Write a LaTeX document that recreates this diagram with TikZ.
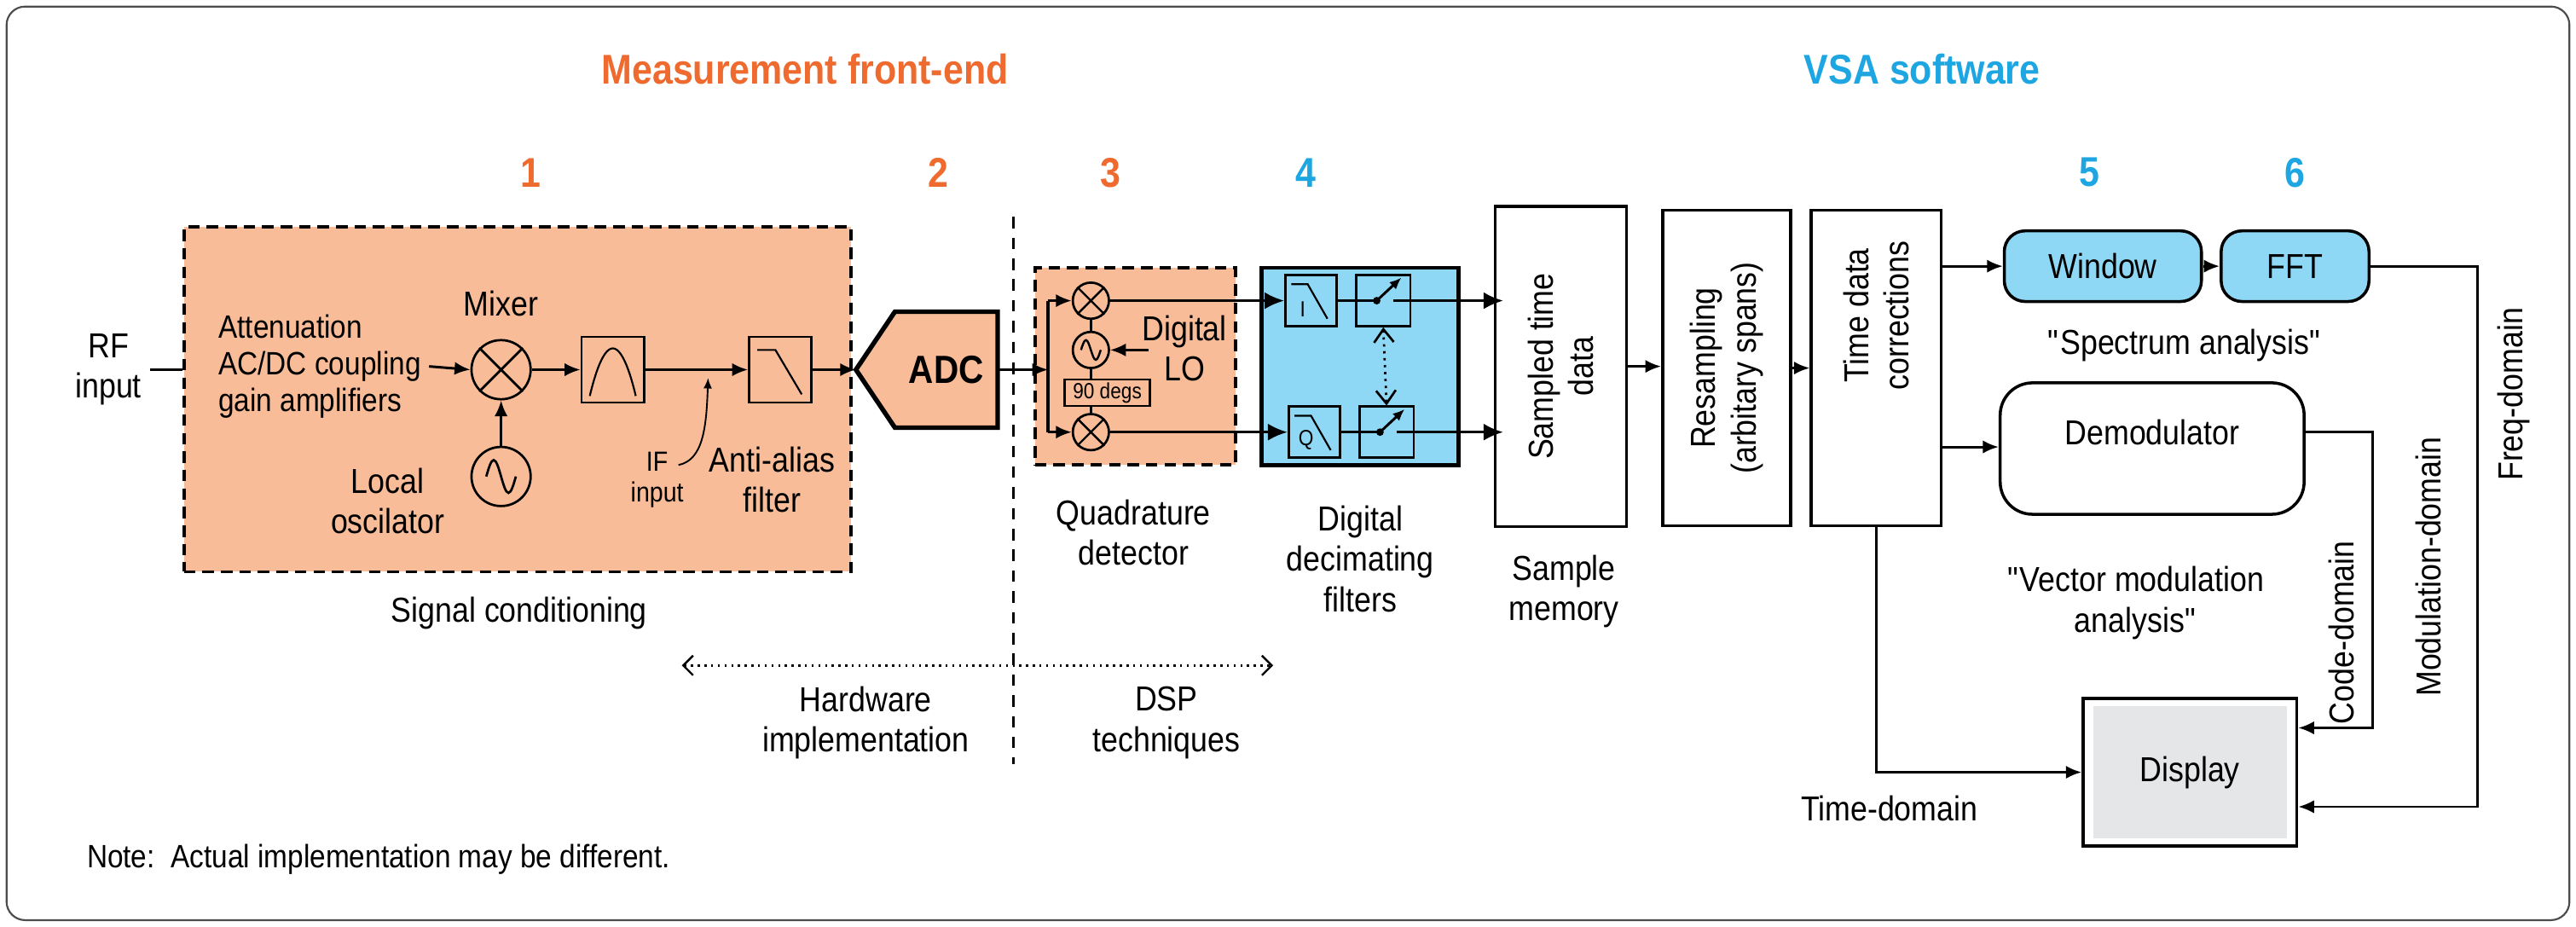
\documentclass[tikz,border=0pt]{standalone}
\usepackage{fontspec}
\setmainfont{Liberation Sans}[FakeStretch=0.88]
\usetikzlibrary{arrows.meta}
\definecolor{fe}{HTML}{EE6A2E}
\definecolor{vsa}{HTML}{1DA6E1}
\definecolor{orfill}{HTML}{F8BC98}
\definecolor{blfill}{HTML}{8ED8F6}
\definecolor{dispgray}{HTML}{E5E6E8}
\begin{document}
\begin{tikzpicture}[x=0.025cm,y=-0.025cm,
  sz/.style 2 args={minimum width=#1*0.025cm,minimum height=#2*0.025cm,inner sep=0pt},
  lbl/.style={font=\fontsize{15}{17.5}\selectfont,align=center},
  small/.style={font=\fontsize{12}{13.5}\selectfont,align=center},
  title/.style={font=\fontsize{18}{21}\selectfont\bfseries},
  box/.style={draw,line width=1.3pt},
  thin/.style={draw,line width=1pt},
  arr/.style={line width=1.1pt,-{Latex[length=2.4mm,width=2mm]}},
  sig/.style={line width=1.3pt,-{Latex[length=3mm,width=2.6mm]}},
  circ/.style={circle,draw,line width=1pt,inner sep=0pt}]
\useasboundingbox (0,0) rectangle (1568,564);
\draw[rounded corners=8,line width=0.8pt,black!70] (4,4) rectangle (1564,560);

% titles
\node[title,text=fe] (tfe) at (490,42) {Measurement front-end};
\node[title,text=vsa] (tvsa) at (1170,42) {VSA software};
\node[title,text=fe] (n1) at (323,105) {1};
\node[title,text=fe] (n2) at (571,105) {2};
\node[title,text=fe] (n3) at (676,105) {3};
\node[title,text=vsa] (n4) at (795,105) {4};
\node[title,text=vsa] (n5) at (1272,105) {5};
\node[title,text=vsa] (n6) at (1397,105) {6};

% signal conditioning
\node[lbl] (rf) at (66,225) {RF\\input};
\node[sz={406}{210},fill=orfill,draw,dashed,line width=1.3pt,dash pattern=on 5pt off 3pt] (sc) at (315,243) {};
\draw[line width=1.3pt] (rf.east) -- (rf.east -| sc.west);
\node[lbl,align=left,anchor=west,font=\fontsize{14}{16}\selectfont] (att) at (128,223) {Attenuation\\AC/DC coupling\\gain amplifiers};
\node[circ,sz={36}{36}] (mix) at (305,225) {};
\draw[line width=1pt] (mix.north west) -- (mix.south east) (mix.north east) -- (mix.south west);
\node[lbl] (mixl) at (305,185) {Mixer};
\node[circ,sz={36}{36}] (osc) at (305,290) {};
\draw[line width=1pt,shift={(osc.center)}] (-9,0) sin (-4.5,-10) cos (0,0) sin (4.5,10) cos (9,0);
\node[lbl] (oscl) at (236,305) {Local\\oscilator};
\node[thin,sz={38}{40}] (bpf) at (373,225) {};
\draw[line width=0.8pt] (359,241) parabola bend (373,212) (387,241);
\node[thin,sz={38}{40}] (lpf) at (475,225) {};
\draw[line width=0.8pt] (461,213) -- (472,213) -- (488,240);
\draw[arr] (att.east) -- (mix.west);
\draw[arr] (osc.north) -- (mix.south);
\draw[arr] (mix.east) -- (bpf.west);
\draw[arr] (bpf.east) -- (lpf.west);
\node[small] (ifl) at (400,292) {IF\\input};
\coordinate (ifs) at (413,283);
\coordinate (ife) at (431,230);
\draw[line width=0.7pt,-{Latex[length=1.6mm,width=1.3mm]}] (ifs) .. controls (428,280) and (430,260) .. (ife);
\node[lbl] (aal) at (470,292) {Anti-alias\\filter};
\node[lbl] (scl) at (316,373) {Signal conditioning};

% ADC
\node[sz={62}{70}] (adc) at (576,225) {};
\coordinate (adcin) at (521,225);
\fill[orfill] (adc.north west) -- (adc.north east) -- (adc.south east) -- (adc.south west) -- (adcin) -- cycle;
\draw[line width=2pt] (adc.north west) -- (adc.north east) -- (adc.south east) -- (adc.south west) -- (adcin) -- cycle;
\node[title,font=\fontsize{17}{19}\selectfont\bfseries] at (adc.center) {ADC};
\draw[arr] (lpf.east) -- (adcin);

% hw / dsp divider
\coordinate (divt) at (617,132);
\coordinate (divb) at (617,465);
\draw[line width=1pt,dash pattern=on 5pt off 4pt] (divt) -- (divb);
\coordinate (hwl) at (415,405);
\coordinate (dspr) at (775,405);
\draw[line width=0.9pt,dotted,{Straight Barb[length=1.5mm]}-{Straight Barb[length=1.5mm]}] (hwl) -- (dspr);
\node[lbl] (hwt) at (527,440) {Hardware\\implementation};
\node[lbl] (dspt) at (710,440) {DSP\\techniques};

% quadrature detector
\node[sz={122}{120},fill=orfill,draw,line width=1.3pt,dash pattern=on 5pt off 3pt] (qd) at (691,223) {};
\coordinate (bus) at (638,225);
\coordinate (bust) at (638,183);
\coordinate (busb) at (638,263);
\draw[arr] (adc.east) -- (bus);
\draw[line width=1.3pt] (bust) -- (busb);
\node[circ,sz={22}{22}] (mi) at (664,183) {};
\node[circ,sz={22}{22}] (mq) at (664,263) {};
\foreach \m in {mi,mq}
  \draw[line width=0.9pt] (\m.north west) -- (\m.south east) (\m.north east) -- (\m.south west);
\node[circ,sz={22}{22}] (lo) at (664,213) {};
\draw[line width=0.9pt,shift={(lo.center)}] (-6,0) sin (-3,-6) cos (0,0) sin (3,6) cos (6,0);
\node[thin,line width=0.9pt,sz={52}{16},font=\fontsize{9.5}{10}\selectfont] (deg) at (674,239) {90 degs};
\draw[arr] (bust) -- (mi.west);
\draw[arr] (busb) -- (mq.west);
\draw[line width=0.9pt] (mi.south) -- (lo.north) (lo.south) -- (lo.south |- deg.north) (mq.north |- deg.south) -- (mq.north);
\coordinate (loin) at (699,213);
\draw[arr] (loin) -- (lo.east);
\node[lbl] (lol) at (721,212) {Digital\\LO};
\node[lbl] (qdl) at (690,324) {Quadrature\\detector};

% digital decimating filters
\node[sz={120}{120},fill=blfill,draw,line width=1.8pt] (ddf) at (828,223) {};
\node[thin,sz={31}{31}] (ilp) at (798,183) {};
\node[thin,sz={33}{31}] (isw) at (842,183) {};
\node[thin,sz={31}{31}] (qlp) at (800,263) {};
\node[thin,sz={33}{31}] (qsw) at (844,263) {};
\foreach \f/\t in {ilp/I,qlp/Q}{
  \draw[line width=0.8pt] ([shift={(-12,-10)}]\f.center) -- ([shift={(-2,-10)}]\f.center) -- ([shift={(10,11)}]\f.center);
  \node[font=\fontsize{9.5}{10}\selectfont] at ([shift={(-5,5)}]\f.center) {\t};}
\node[lbl] (ddfl) at (828,340) {Digital\\decimating\\filters};

% sample memory, resampling, corrections
\node[box,sz={80}{195}] (smp) at (950,223) {};
\node[lbl,rotate=90] at (smp.center) {Sampled time\\data};
\node[lbl] (smpl) at (952,360) {Sample\\memory};
\node[box,sz={78}{192}] (res) at (1051,224) {};
\node[lbl,rotate=90] at (res.center) {Resampling\\(arbitary spans)};
\node[box,sz={79}{192}] (tdc) at (1142,224) {};
\node[lbl,rotate=90] at (1142,192) {Time data\\corrections};

% I/Q paths
\foreach \mx/\lp/\sw in {mi/ilp/isw,mq/qlp/qsw}{
  \draw[sig] (\mx.east) -- (\lp.west);
  \draw[line width=1.3pt] (\lp.east) -- ([xshift=-0.1cm]\sw.center);
  \fill ([xshift=-0.1cm]\sw.center) circle (2.3);
  \draw[line width=1.1pt,-{Latex[length=1.8mm,width=1.5mm]}] ([xshift=-0.1cm]\sw.center) -- ([shift={(11,-14)}]\sw.center);
  \draw[sig] ([xshift=0.15cm]\sw.center) -- ([xshift=0.15cm]\sw.center -| smp.west);}
\draw[line width=1pt,dotted,{Straight Barb[length=2mm,width=3mm]}-{Straight Barb[length=2mm,width=3mm]}] (isw.south) -- (qsw.north);

\draw[arr] (smp.east) -- (smp.east -| res.west);
\draw[arr] (res.east) -- (res.east -| tdc.west);

% spectrum analysis
\node[box,fill=blfill,rounded corners=9,sz={120}{43},font=\fontsize{15}{17}\selectfont] (win) at (1280,162) {Window};
\node[box,fill=blfill,rounded corners=9,sz={90}{43},font=\fontsize{15}{17}\selectfont] (fft) at (1397,162) {FFT};
\node[lbl] (spl) at (1330,210) {\textquotedbl Spectrum analysis\textquotedbl};
\draw[arr] (tdc.east |- win.west) -- (win.west);
\draw[arr] (win.east) -- (fft.west);

% vector modulation analysis
\node[box,rounded corners=14,sz={185}{80}] (dem) at (1310,273) {};
\node[font=\fontsize{15}{17}\selectfont] at (1310,263) {Demodulator};
\draw[arr] (tdc.east |- 1,272) -- (dem.west |- 1,272);
\node[lbl] (vml) at (1300,367) {\textquotedbl Vector modulation\\analysis\textquotedbl};

% display
\node[box,sz={130}{90}] (disp) at (1333,470) {};
\node[fill=dispgray,sz={118}{80},font=\fontsize{15}{17}\selectfont] (dispi) at (1333,470) {Display};

\coordinate (fc) at (1508,491);
\coordinate (cc) at (1444,443);
\draw[arr] (fft.east) -| (fc) -- (fc -| disp.east);
\draw[arr] ([yshift=0.25cm]dem.east) -| (cc) -- (cc -| disp.east);
\draw[arr] (tdc.south) |- (disp.west);

\node[lbl,rotate=90] (cdl) at (1425,385) {Code-domain};
\node[lbl,rotate=90] (mdl) at (1478,345) {Modulation-domain};
\node[lbl,rotate=90] (fdl) at (1530,240) {Freq-domain};
\node[lbl] (tdl) at (1150,492) {Time-domain};

\node[lbl,anchor=west,font=\fontsize{14}{16}\selectfont] (note) at (48,523) {Note:\ \ Actual implementation may be different.};
\end{tikzpicture}
\end{document}
